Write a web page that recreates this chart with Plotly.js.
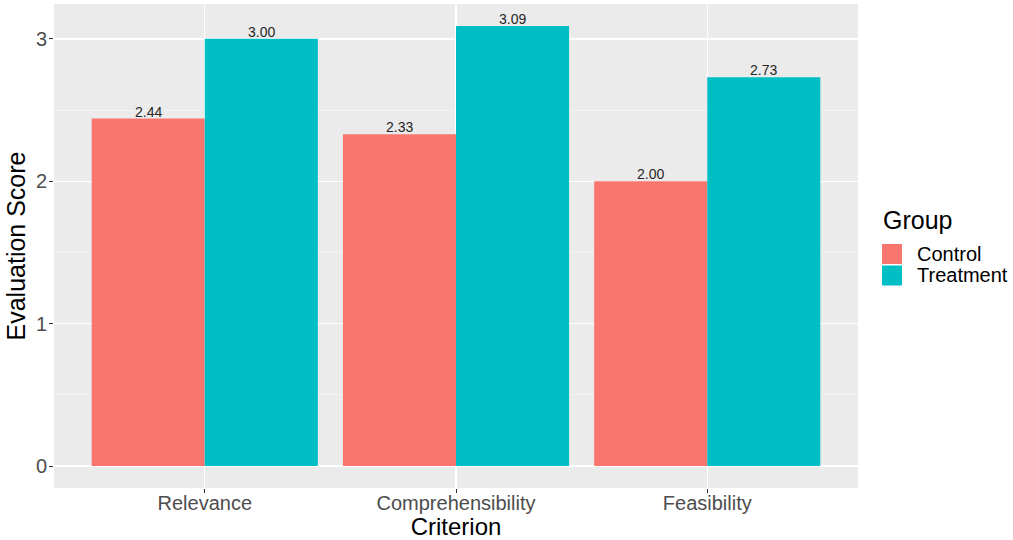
<!DOCTYPE html>
<html><head><meta charset="utf-8">
<script src="https://cdn.plot.ly/plotly-3.0.1.min.js"></script>
<style>body{margin:0;padding:0;background:#fff}#chart{width:1013px;height:540px}</style>
</head><body><div id="chart"></div>
<script>
const criteria = ["Relevance", "Comprehensibility", "Feasibility"];
const controlScores = [2.44, 2.33, 2.00];
const treatmentScores = [3.00, 3.09, 2.73];
const groupNames = ["Control", "Treatment"];
const groupColors = ["#F8766D", "#00BFC4"];
const legendTitle = "Group";
const yTicks = [0, 1, 2, 3];

const FONT = "Liberation Sans, Arial, Helvetica, sans-serif";
const W = 1013, H = 540, ML = 54, MR = 155, MT = 4, MB = 52;
const PW = W - ML - MR, PH = H - MT - MB;
const px2x = p => (p - ML) / PW;
const px2y = p => (H - MB - p) / PH;

const seriesVals = [controlScores, treatmentScores];
const data = seriesVals.map((vals, i) => ({
  type: "bar", name: groupNames[i], x: criteria, y: vals,
  marker: {color: groupColors[i], line: {width: 0}},
  offsetgroup: String(i),
  hoverinfo: "none", showlegend: false
}));

// value labels, anchored to the bar tops through the axes
const annotations = [];
const nG = seriesVals.length, groupW = 0.9, barW = groupW / nG;
seriesVals.forEach((vals, i) => {
  vals.forEach((v, j) => {
    annotations.push({
      x: j - groupW / 2 + barW * (i + 0.5), y: v, xref: "x", yref: "y",
      text: v.toFixed(2), showarrow: false, yanchor: "bottom", yshift: -3,
      font: {family: FONT, size: 14, color: "#262626"}
    });
  });
});

// legend (ggplot style, large keys)
const shapes = [];
annotations.push({
  x: px2x(881), y: px2y(220), xref: "paper", yref: "paper",
  xanchor: "left", yanchor: "middle", showarrow: false,
  text: legendTitle, font: {family: FONT, size: 25, color: "#000000"}
});
groupNames.forEach((g, i) => {
  const cy = 254 + i * 21.5;
  shapes.push({
    type: "rect", xref: "paper", yref: "paper",
    x0: px2x(882), x1: px2x(902), y0: px2y(cy - 10), y1: px2y(cy + 10),
    fillcolor: groupColors[i], line: {width: 0}, layer: "above"
  });
  annotations.push({
    x: px2x(915), y: px2y(cy), xref: "paper", yref: "paper",
    xanchor: "left", yanchor: "middle", showarrow: false,
    text: g, font: {family: FONT, size: 20, color: "#000000"}
  });
});

const layout = {
  width: W, height: H,
  margin: {l: ML, r: MR, t: MT, b: MB},
  paper_bgcolor: "#ffffff", plot_bgcolor: "#EBEBEB",
  font: {family: FONT},
  barmode: "group", bargap: 0.1, bargroupgap: 0,
  xaxis: {
    type: "category", range: [-0.6, 2.6],
    showgrid: true, gridcolor: "#ffffff", gridwidth: 1.4,
    ticks: "outside", ticklen: 4, tickcolor: "#333333", tickwidth: 1,
    tickfont: {size: 20, color: "#4D4D4D"}, ticklabelstandoff: -7,
    showline: false, zeroline: false,
    title: {text: "Criterion", font: {size: 24, color: "#000000"}, standoff: 6}
  },
  yaxis: {
    range: [-0.1545, 3.2445],
    tickvals: yTicks, ticktext: yTicks.map(String),
    showgrid: true, gridcolor: "#ffffff", gridwidth: 1.4,
    minor: {tickvals: [0.5, 1.5, 2.5], showgrid: true, gridcolor: "#F6F6F6", gridwidth: 0.7, ticks: ""},
    ticks: "outside", ticklen: 4, tickcolor: "#333333", tickwidth: 1,
    tickfont: {size: 20, color: "#4D4D4D"}, ticklabelstandoff: -2,
    zeroline: false, showline: false,
    title: {text: "Evaluation Score", font: {size: 25, color: "#000000"}, standoff: 3}
  },
  annotations: annotations,
  shapes: shapes,
  showlegend: false
};
Plotly.newPlot("chart", data, layout, {displayModeBar: false, staticPlot: true});
</script></body></html>
